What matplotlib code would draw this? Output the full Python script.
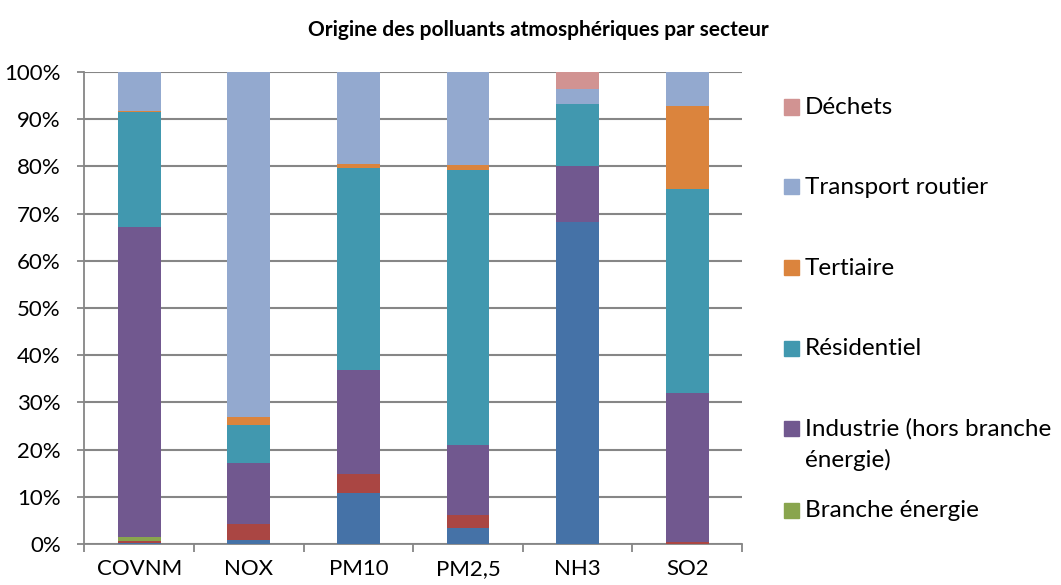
import matplotlib
matplotlib.use("Agg")
import matplotlib.pyplot as plt
from matplotlib.patches import Rectangle
import numpy as np

plt.rcParams['font.family'] = ['Lato', 'DejaVu Sans']

# polluants (axe x)
polluants = ["COVNM", "NOX", "PM10", "PM2,5", "NH3", "SO2"]

# part de chaque secteur (%), du bas vers le haut de la pile
agriculture = [0.2, 0.9, 10.8, 3.4, 68.3, 0.0]
autres_transports = [0.4, 3.4, 4.1, 2.7, 0.0, 0.4]
branche_energie = [0.8, 0.0, 0.0, 0.0, 0.0, 0.0]
industrie = [65.8, 12.9, 21.9, 14.9, 11.7, 31.5]
residentiel = [24.4, 8.0, 42.9, 58.3, 13.2, 43.3]
tertiaire = [0.2, 1.7, 0.9, 0.9, 0.0, 17.5]
transport_routier = [8.2, 73.1, 19.4, 19.8, 3.1, 7.3]
dechets = [0.0, 0.0, 0.0, 0.0, 3.7, 0.0]

series = [
    ("Agriculture", agriculture, "#4572A7"),
    ("Autres transports", autres_transports, "#AA4643"),
    ("Branche énergie", branche_energie, "#89A54E"),
    ("Industrie (hors branche\nénergie)", industrie, "#71588F"),
    ("Résidentiel", residentiel, "#4198AF"),
    ("Tertiaire", tertiaire, "#DB843D"),
    ("Transport routier", transport_routier, "#93A9CF"),
    ("Déchets", dechets, "#D19392"),
]
legend_names = ["Déchets", "Transport routier", "Tertiaire", "Résidentiel",
                "Industrie (hors branche\nénergie)", "Branche énergie"]

fig = plt.figure(figsize=(10.61, 5.85), dpi=100)
ax = fig.add_axes([0.0796, 0.0701, 0.6198, 0.8068])

x = np.arange(len(polluants))
bottom = np.zeros(len(polluants))
colors = {}
for name, vals, col in series:
    vals = np.array(vals)
    ax.bar(x, vals, 0.39, bottom=bottom, color=col, edgecolor="none", zorder=3)
    bottom += vals
    colors[name] = col

ax.set_xlim(-0.5, len(polluants) - 0.5)
ax.set_ylim(0, 100)
ax.set_yticks(np.arange(0, 101, 10))
ax.set_yticklabels([f"{v}%" for v in range(0, 101, 10)], fontsize=16)
ax.set_xticks(x)
ax.set_xticklabels(polluants, fontsize=16)
ax.set_xticks(np.arange(-0.5, len(polluants)), minor=True)
ax.tick_params(axis="x", which="major", length=0, pad=11)
ax.tick_params(axis="x", which="minor", length=6, color="#868686", width=1.3)
ax.tick_params(axis="y", length=5, color="#868686", width=1.3, pad=12)
ax.yaxis.grid(True, color="#868686", linewidth=1.5, zorder=0)
for s in ["top", "right"]:
    ax.spines[s].set_visible(False)
for s in ["left", "bottom"]:
    ax.spines[s].set_color("#868686")
    ax.spines[s].set_linewidth(1.3)

fig.text(538 / 1061, 1 - 30 / 585, "Origine des polluants atmosphériques par secteur",
         ha="center", va="center", fontsize=15, fontweight="bold")

# légende dessinée à la main (style Excel)
legend_y = [107, 187, 268, 348, 428, 510]
for name, yp in zip(legend_names, legend_y):
    yf = 1 - yp / 585
    fig.patches.append(Rectangle((784 / 1061, yf - 7.5 / 585), 15 / 1061, 15 / 585,
                                 transform=fig.transFigure, color=colors[name]))
    fig.text(805 / 1061, yf + 10 / 585, name, ha="left", va="top", fontsize=17.5,
             linespacing=1.5)

fig.savefig("out.png", dpi=100)
